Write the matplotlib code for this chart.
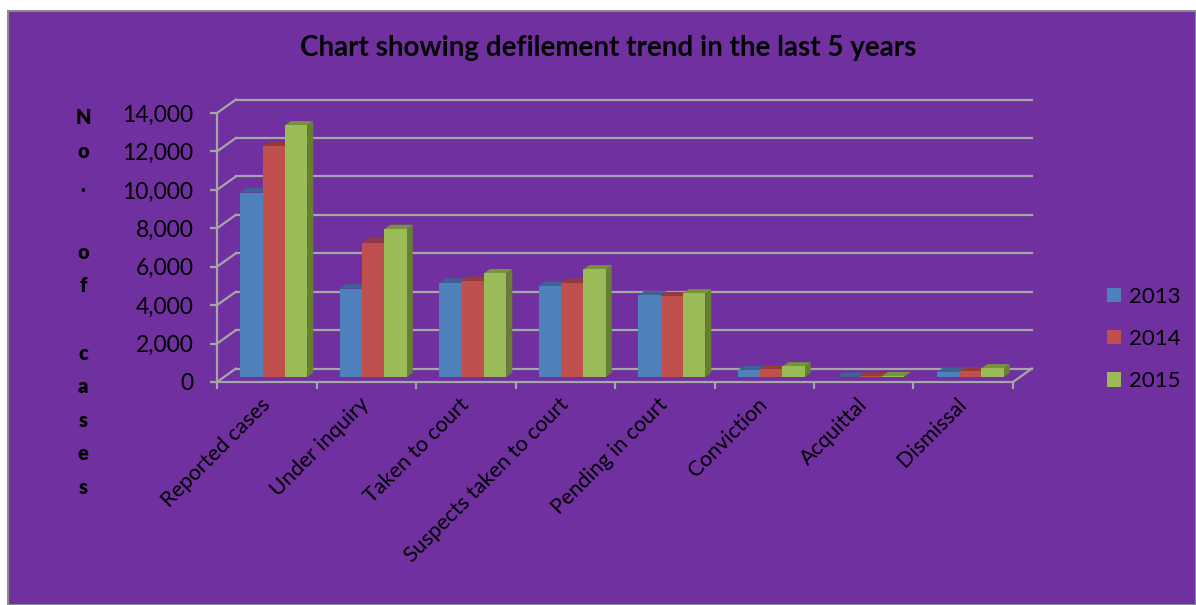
import matplotlib.pyplot as plt
from matplotlib.patches import Polygon, Rectangle, Patch
import numpy as np

plt.rcParams["font.family"] = ["Lato", "DejaVu Sans"]

categories = [
    "Reported cases", "Under inquiry", "Taken to court", "Suspects taken to court",
    "Pending in court", "Conviction", "Acquittal", "Dismissal",
]
years = ["2013", "2014", "2015"]
cases_2013 = [9600, 4600, 4900, 4750, 4250, 350, 20, 250]
cases_2014 = [12000, 7000, 5000, 4900, 4200, 400, 30, 300]
cases_2015 = [13100, 7700, 5400, 5600, 4350, 550, 40, 450]
y_ticks = [0, 2000, 4000, 6000, 8000, 10000, 12000, 14000]

BG = "#7030A0"
GRID = "#A6A6A6"
FACE = ["#4F81BD", "#C0504D", "#9BBB59"]
TOP = ["#3B6494", "#963B38", "#77933C"]
SIDE = ["#375A85", "#85332F", "#667F31"]

W, H = 1196, 605
fig = plt.figure(figsize=(W / 100, H / 100), dpi=100, facecolor="white")
fig.add_artist(Rectangle((8 / W, 0), 1 - 8 / W, (H - 11) / H, transform=fig.transFigure,
                         facecolor=BG, edgecolor="#8C8C8C", linewidth=1.5, zorder=-10))

# front plane: x 0..8 -> 217..1013 px, y 0..14000 -> 382..113 px (from top)
ax = fig.add_axes([217 / W, (H - 382) / H, 796 / W, 269 / H])
ax.set_xlim(0, len(categories))
ax.set_ylim(0, 14000)
ax.set_facecolor("none")

# depth vector of the floor / walls, in data units
DX, DY = 0.19, 700
# bars sit part way back, with their own thickness
BX, BY = 0.37 * DX, 0.37 * DY
SX, SY = 0.32 * DX, 0.32 * DY

# back wall gridlines and left-wall diagonals
for v in y_ticks:
    ax.plot([DX, len(categories) + DX], [v + DY, v + DY], color=GRID, lw=1.6,
            clip_on=False, zorder=1)
    ax.plot([0, DX], [v, v + DY], color=GRID, lw=1.6, clip_on=False, zorder=1)
ax.plot([len(categories), len(categories) + DX], [0, DY], color=GRID, lw=1.6,
        clip_on=False, zorder=1)

series = [cases_2013, cases_2014, cases_2015]
group_w = 0.673
bar_w = group_w / len(series)
for ci in range(len(categories)):
    for si, vals in enumerate(series):
        h = vals[ci]
        x0 = ci + (1 - group_w) / 2 + si * bar_w + BX
        x1 = x0 + bar_w
        y0 = BY
        z = 3 + ci * 0.01 + si * 0.001
        ax.add_patch(Polygon([(x1, y0), (x1 + SX, y0 + SY), (x1 + SX, y0 + h + SY), (x1, y0 + h)],
                             closed=True, facecolor=SIDE[si], edgecolor="none",
                             clip_on=False, zorder=z))
        ax.add_patch(Polygon([(x0, y0 + h), (x1, y0 + h), (x1 + SX, y0 + h + SY), (x0 + SX, y0 + h + SY)],
                             closed=True, facecolor=TOP[si], edgecolor="none",
                             clip_on=False, zorder=z))
        ax.bar(x0, h, width=bar_w, bottom=y0, align="edge", color=FACE[si],
               edgecolor="none", clip_on=False, zorder=z + 0.0005)

for side in ["top", "right"]:
    ax.spines[side].set_visible(False)
for side in ["left", "bottom"]:
    ax.spines[side].set_color(GRID)
    ax.spines[side].set_linewidth(1.6)
    ax.spines[side].set_zorder(2)

ax.set_yticks(y_ticks)
ax.set_yticklabels([f"{v:,}" for v in y_ticks])
ax.tick_params(axis="y", length=5, width=1.6, color=GRID, pad=12, labelsize=16.5,
               labelcolor="black")

ax.set_xticks(np.arange(len(categories) + 1))
ax.set_xticklabels([])
ax.tick_params(axis="x", which="major", length=5, width=1.6, color=GRID)
ax.set_xticks(np.arange(len(categories)) + 0.5, minor=True)
ax.set_xticklabels(categories, minor=True)
ax.tick_params(axis="x", which="minor", length=0, pad=14, labelsize=15.5, labelcolor="black")
for lbl in ax.get_xticklabels(minor=True):
    lbl.set_rotation(45)
    lbl.set_ha("right")
    lbl.set_va("center")
    lbl.set_rotation_mode("anchor")

fig.text(608 / W, 1 - 48 / H, "Chart showing defilement trend in the last 5 years",
         ha="center", va="center", fontsize=20, fontweight="bold")

# stacked vertical axis title
ylabel = "No.\u00a0of\u00a0cases"
for i, ch in enumerate(ylabel):
    if ch.strip():
        fig.text(83 / W, 1 - (118 + i * 33.6) / H, ch, ha="center", va="center",
                 fontsize=14.5, fontweight="heavy")

handles = [Patch(facecolor=FACE[i], edgecolor="none") for i in range(len(years))]
fig.legend(handles, years, loc="center left", bbox_to_anchor=(1107 / W, 1 - 339 / H),
           frameon=False, fontsize=16, handlelength=0.62, handleheight=0.62,
           handletextpad=0.35, labelspacing=1.0, borderaxespad=0, borderpad=0)

fig.savefig("out.png", dpi=100, facecolor=fig.get_facecolor())
